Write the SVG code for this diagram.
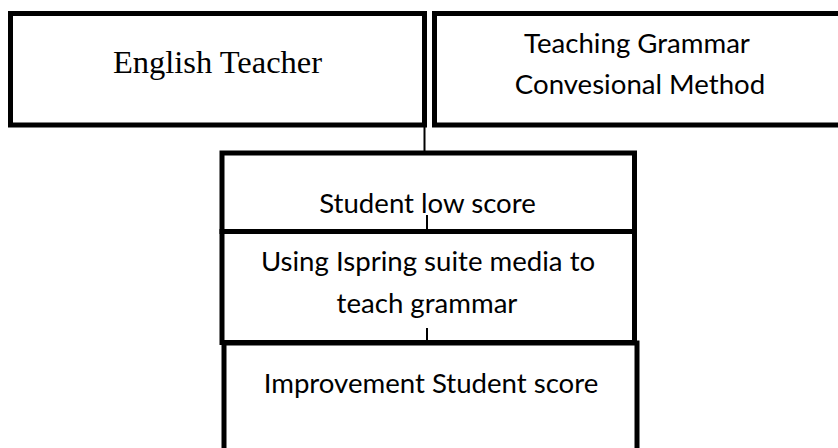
<svg xmlns="http://www.w3.org/2000/svg" width="838" height="448" viewBox="0 0 838 448">
  <style>
    .box { fill: #ffffff; stroke: #000000; stroke-width: 5; }
    .link { stroke: #000000; stroke-width: 2; fill: none; }
    .serif { font-family: "Liberation Serif", "Times New Roman", serif; font-size: 32.5px; fill: #000000; text-anchor: middle; }
    .sans { font-family: Lato, "Liberation Sans", sans-serif; font-size: 27.6px; fill: #000000; text-anchor: middle; }
  </style>
  <rect x="0" y="0" width="838" height="448" fill="#ffffff"/>

  <g id="node-english-teacher">
    <rect class="box" x="10.5" y="13.5" width="414" height="111.5"/>
    <text class="serif" x="217.5" y="73">English Teacher</text>
  </g>

  <g id="node-teaching-grammar">
    <rect class="box" x="434.5" y="13.5" width="420" height="111.5"/>
    <text class="sans" x="637" y="53">Teaching Grammar</text>
    <text class="sans" x="640" y="94">Convesional Method</text>
  </g>

  <g id="node-student-low-score">
    <rect class="box" x="222" y="153" width="412.5" height="78.5"/>
    <text class="sans" x="427.5" y="213">Student low score</text>
  </g>

  <g id="node-using-ispring">
    <rect class="box" x="222" y="231.5" width="412.5" height="111"/>
    <text class="sans" x="428" y="271">Using Ispring suite media to</text>
    <text class="sans" x="427" y="313">teach grammar</text>
  </g>

  <g id="node-improvement">
    <rect class="box" x="224" y="343" width="413" height="120"/>
    <text class="sans" x="431" y="393">Improvement Student score</text>
  </g>

  <g id="connectors">
    <line class="link" x1="424.5" y1="126" x2="424.5" y2="151"/>
    <line class="link" x1="427" y1="215" x2="427" y2="230"/>
    <line class="link" x1="427" y1="328" x2="427" y2="341"/>
  </g>
</svg>
